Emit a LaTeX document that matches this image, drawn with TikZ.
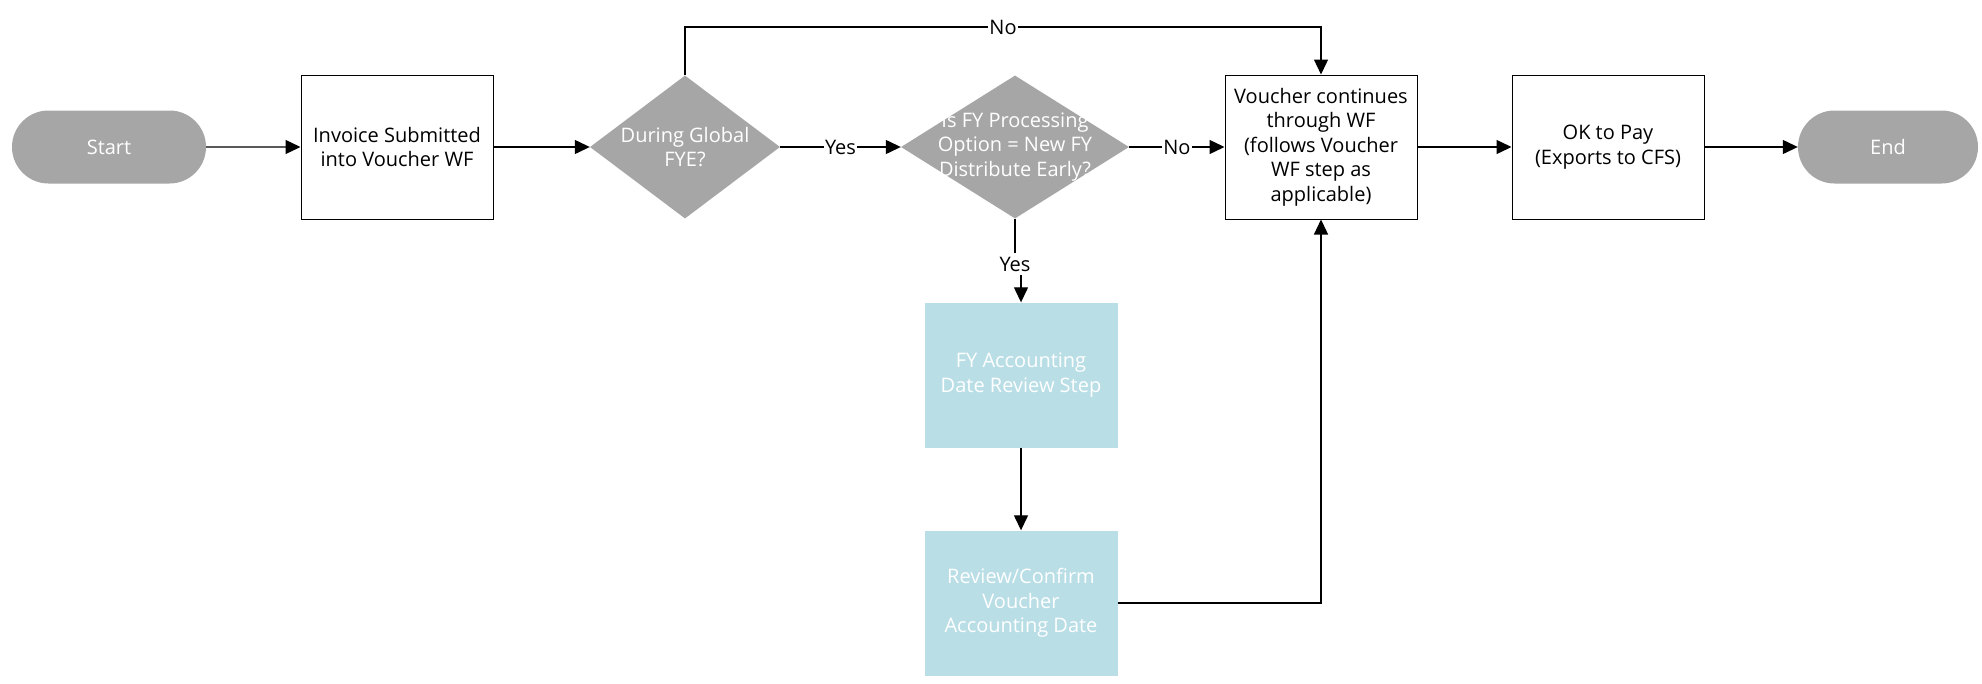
\documentclass[tikz,border=0pt]{standalone}
\usepackage{fontspec}
\setmainfont{Open Sans}
\usetikzlibrary{shapes.geometric,shapes.misc,arrows.meta}
\definecolor{termgray}{HTML}{A6A6A6}
\definecolor{stepblue}{HTML}{B9DEE6}
\tikzset{
  every node/.style={font=\fontsize{20}{24.5}\selectfont, align=center},
  term/.style={rounded rectangle, fill=termgray, text=white, minimum height=73pt, inner sep=0pt},
  procbox/.style={draw, line width=1pt, fill=white, minimum width=192pt, minimum height=144pt, inner sep=0pt},
  stepbox/.style={fill=stepblue, text=white, minimum width=193pt, minimum height=145pt, inner sep=0pt},
  decision/.style={diamond, fill=termgray, inner sep=0pt, minimum height=143pt},
  lbl/.style={fill=white, inner sep=1.5pt},
  flow/.style={line width=1.3pt, -{Triangle[length=15pt,width=14pt]}},
}
\begin{document}
\begin{tikzpicture}[x=1pt, y=-1pt]
  \useasboundingbox (0,0) rectangle (1982,683);
  \node[term, minimum width=194pt] (start) at (109,147) {Start};
  \node[procbox] (invoice) at (397,147) {Invoice Submitted\\into Voucher WF};
  \node[decision, minimum width=190pt, label={[text=white]center:During Global\\FYE?}] (fye) at (685,147) {};
  \node[decision, minimum width=228pt, label={[text=white]center:Is FY Processing\\Option = New FY\\Distribute Early?}] (fyopt) at (1015,147) {};
  \node[procbox] (vcont) at (1321,147) {Voucher continues\\through WF\\(follows Voucher\\WF step as\\applicable)};
  \node[procbox] (okpay) at (1608,147) {OK to Pay\\(Exports to CFS)};
  \node[term, minimum width=180pt] (stop) at (1888,147) {End};
  \node[stepbox] (fyreview) at (1021,375) {FY Accounting\\Date Review Step};
  \node[stepbox] (confirm) at (1021,603) {Review/Confirm\\Voucher\\Accounting Date};
  \node[inner sep=4pt] (yesdown) at (1015,264) {Yes};
  \coordinate (noleft) at (685,27);
  \coordinate (noright) at (1321,27);

  \draw[flow] (start) -- (invoice);
  \draw[flow] (invoice) -- (fye);
  \draw[flow] (fye) -- node[lbl] {Yes} (fyopt);
  \draw[flow] (fyopt) -- node[lbl] {No} (vcont);
  \draw[flow] (fye.north) -- (noleft) -- node[lbl] {No} (noright) -- (vcont.north);
  \draw[flow] (vcont) -- (okpay);
  \draw[flow] (okpay) -- (stop);
  \draw[line width=1.3pt] (fyopt.south) -- (yesdown.north);
  \draw[flow] (yesdown.south -| fyreview.north) -- (fyreview.north);
  \draw[flow] (fyreview) -- (confirm);
  \draw[flow] (confirm.east) -| (vcont.south);
\end{tikzpicture}
\end{document}
